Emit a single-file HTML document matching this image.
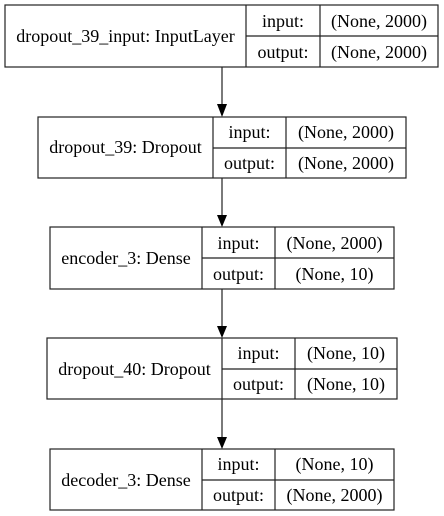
<!DOCTYPE html>
<html><head><style>html,body{margin:0;padding:0;background:#fff}svg{display:block}</style></head>
<body>
<svg width="444" height="516" viewBox="0 0 444 516" xmlns="http://www.w3.org/2000/svg" font-family="Liberation Serif, serif" font-size="18" fill="#000">
<g stroke="#222" stroke-width="1.2" fill="none">
<rect x="5" y="5" width="433" height="62"/><line x1="246" y1="5" x2="246" y2="67"/><line x1="320" y1="5" x2="320" y2="67"/><line x1="246" y1="36" x2="438" y2="36"/>
<rect x="38" y="117" width="368" height="61"/><line x1="213" y1="117" x2="213" y2="178"/><line x1="286" y1="117" x2="286" y2="178"/><line x1="213" y1="148" x2="406" y2="148"/>
<rect x="50" y="227" width="344" height="62"/><line x1="202" y1="227" x2="202" y2="289"/><line x1="275" y1="227" x2="275" y2="289"/><line x1="202" y1="258" x2="394" y2="258"/>
<rect x="47" y="338" width="350" height="61"/><line x1="222" y1="338" x2="222" y2="399"/><line x1="295" y1="338" x2="295" y2="399"/><line x1="222" y1="369" x2="397" y2="369"/>
<rect x="50" y="449" width="344" height="61"/><line x1="202" y1="449" x2="202" y2="510"/><line x1="275" y1="449" x2="275" y2="510"/><line x1="202" y1="480" x2="394" y2="480"/>
<line x1="222" y1="67" x2="222" y2="105"/><line x1="222" y1="178" x2="222" y2="216"/><line x1="222" y1="289" x2="222" y2="327"/><line x1="222" y1="399" x2="222" y2="438"/>
</g>
<g fill="#000">
<polygon points="217,104 227,104 222,117"/><polygon points="217,215 227,215 222,227"/><polygon points="217,326 227,326 222,338"/><polygon points="217,437 227,437 222,449"/>
</g>
<g text-anchor="middle">
<text x="125.5" y="42">dropout_39_input: InputLayer</text>
<text x="283" y="27">input:</text><text x="283" y="58">output:</text>
<text x="379" y="27">(None, 2000)</text><text x="379" y="58">(None, 2000)</text>

<text x="125.5" y="153">dropout_39: Dropout</text>
<text x="249.5" y="138">input:</text><text x="249.5" y="169">output:</text>
<text x="346" y="138">(None, 2000)</text><text x="346" y="169">(None, 2000)</text>

<text x="126" y="264">encoder_3: Dense</text>
<text x="238.5" y="249">input:</text><text x="238.5" y="280">output:</text>
<text x="334.5" y="249">(None, 2000)</text><text x="334.5" y="280">(None, 10)</text>

<text x="134.5" y="375">dropout_40: Dropout</text>
<text x="258.5" y="359">input:</text><text x="258.5" y="390">output:</text>
<text x="346" y="359">(None, 10)</text><text x="346" y="390">(None, 10)</text>

<text x="126" y="486">decoder_3: Dense</text>
<text x="238.5" y="470">input:</text><text x="238.5" y="501">output:</text>
<text x="334.5" y="470">(None, 10)</text><text x="334.5" y="501">(None, 2000)</text>
</g>
</svg>
</body></html>
